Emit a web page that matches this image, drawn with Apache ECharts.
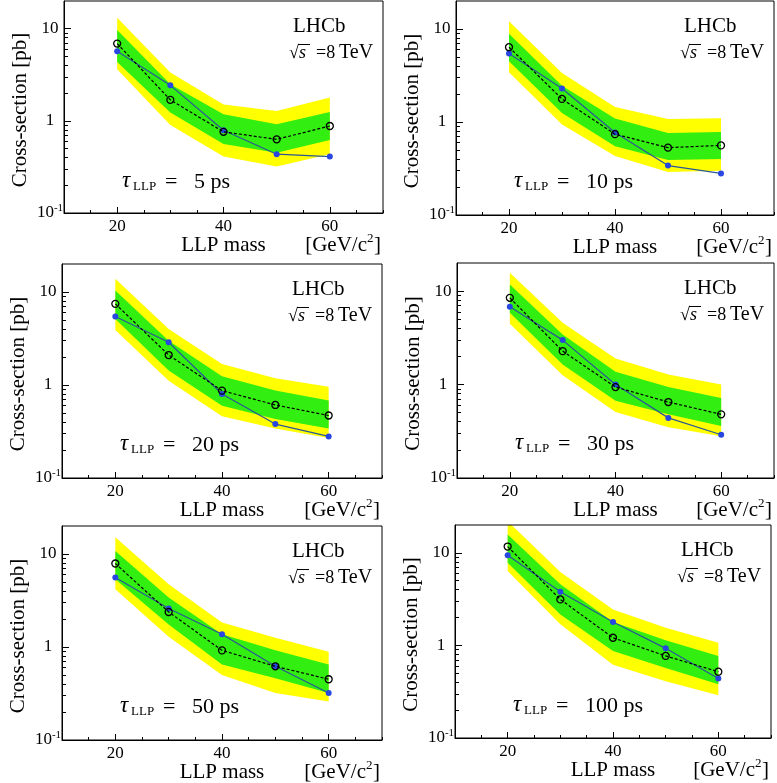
<!DOCTYPE html>
<html>
<head>
<meta charset="utf-8">
<script src="https://cdn.jsdelivr.net/npm/echarts@6/dist/echarts.min.js"></script>
<style>
html,body{margin:0;padding:0;background:#fff;}
#chart{width:777px;height:783px;}
</style>
</head>
<body>
<div id="chart"></div>
<script>
// ---- data ----
const masses = [20, 30, 40, 50, 60];
const lifetimes = ['5', '10', '20', '30', '50', '100'];
const xTickLabels = [20, 40, 60];
const yTickLabels = [0.1, 1, 10];

// tau = 5 ps
const obs5   = [5.7, 2.43, 0.79, 0.435, 0.41];
const exp5   = [6.9, 1.69, 0.76, 0.63, 0.88];
const s1lo5  = [4.35, 1.23, 0.56, 0.45, 0.62];
const s1hi5  = [9.7, 2.49, 1.18, 0.92, 1.25];
const s2lo5  = [3.63, 0.90, 0.41, 0.32, 0.435];
const s2hi5  = [13.2, 3.34, 1.51, 1.28, 1.79];
// tau = 10 ps
const obs10  = [5.45, 2.29, 0.77, 0.34, 0.28];
const exp10  = [6.37, 1.77, 0.74, 0.53, 0.56];
const s1lo10 = [4.5, 1.25, 0.55, 0.39, 0.40];
const s1hi10 = [8.87, 2.46, 1.09, 0.76, 0.78];
const s2lo10 = [3.43, 0.94, 0.43, 0.29, 0.30];
const s2hi10 = [12.1, 3.37, 1.45, 1.08, 1.10];
// tau = 20 ps
const obs20  = [5.45, 2.88, 0.80, 0.38, 0.28];
const exp20  = [7.46, 2.1, 0.87, 0.61, 0.47];
const s1lo20 = [5.14, 1.43, 0.60, 0.43, 0.34];
const s1hi20 = [10.4, 3.0, 1.24, 0.87, 0.68];
const s2lo20 = [3.91, 1.11, 0.46, 0.34, 0.27];
const s2hi20 = [13.9, 4.01, 1.68, 1.18, 0.96];
// tau = 30 ps
const obs30  = [6.8, 2.99, 1.0, 0.44, 0.29];
const exp30  = [8.48, 2.28, 0.94, 0.65, 0.48];
const s1lo30 = [5.86, 1.64, 0.67, 0.48, 0.36];
const s1hi30 = [11.8, 3.43, 1.37, 0.94, 0.72];
const s2lo30 = [4.47, 1.26, 0.51, 0.35, 0.28];
const s2hi30 = [15.7, 4.58, 1.9, 1.28, 1.0];
// tau = 50 ps
const obs50  = [5.58, 2.59, 1.37, 0.62, 0.32];
const exp50  = [7.9, 2.38, 0.92, 0.62, 0.45];
const s1lo50 = [5.36, 1.75, 0.65, 0.46, 0.32];
const s1hi50 = [10.8, 3.4, 1.37, 0.92, 0.65];
const s2lo50 = [4.18, 1.29, 0.50, 0.32, 0.26];
const s2hi50 = [15.1, 4.73, 1.83, 1.26, 0.89];
// tau = 100 ps
const obs100  = [9.4, 3.8, 1.79, 0.93, 0.44];
const exp100  = [11.7, 3.14, 1.21, 0.77, 0.52];
const s1lo100 = [7.83, 2.16, 0.87, 0.57, 0.38];
const s1hi100 = [15.8, 4.57, 1.79, 1.14, 0.77];
const s2lo100 = [6.36, 1.69, 0.62, 0.41, 0.29];
const s2hi100 = [22, 6.2, 2.45, 1.55, 1.07];

const panels = [
  {tau: lifetimes[0], obs: obs5,   exp: exp5,   s1lo: s1lo5,   s1hi: s1hi5,   s2lo: s2lo5,   s2hi: s2hi5},
  {tau: lifetimes[1], obs: obs10,  exp: exp10,  s1lo: s1lo10,  s1hi: s1hi10,  s2lo: s2lo10,  s2hi: s2hi10},
  {tau: lifetimes[2], obs: obs20,  exp: exp20,  s1lo: s1lo20,  s1hi: s1hi20,  s2lo: s2lo20,  s2hi: s2hi20},
  {tau: lifetimes[3], obs: obs30,  exp: exp30,  s1lo: s1lo30,  s1hi: s1hi30,  s2lo: s2lo30,  s2hi: s2hi30},
  {tau: lifetimes[4], obs: obs50,  exp: exp50,  s1lo: s1lo50,  s1hi: s1hi50,  s2lo: s2lo50,  s2hi: s2hi50},
  {tau: lifetimes[5], obs: obs100, exp: exp100, s1lo: s1lo100, s1hi: s1hi100, s2lo: s2lo100, s2hi: s2hi100}
];

// ---- layout ----
const rects = [
  {left: 64,  top: 1,   width: 319, height: 212},
  {left: 456, top: 1,   width: 318, height: 214},
  {left: 62,  top: 264, width: 320, height: 214},
  {left: 457, top: 263, width: 317, height: 215},
  {left: 62,  top: 526, width: 320, height: 214},
  {left: 455, top: 525, width: 316, height: 213}
];

const FONT = 'Liberation Serif';
const YELLOW = '#ffff00';
const GREEN = '#33ee11';
const minorY = [0.2,0.3,0.4,0.5,0.6,0.7,0.8,0.9,2,3,4,5,6,7,8,9];

const grids = [], xAxes = [], yAxes = [], series = [], graphics = [];

function bandSeries(gi, lo, hi, color, z) {
  return {
    type: 'custom', xAxisIndex: gi * 2, yAxisIndex: gi * 2, clip: true, silent: true, z: z,
    data: masses.map((m, i) => [m, lo[i], hi[i]]),
    encode: {x: 0, y: [1, 2]},
    renderItem: function (params, api) {
      if (params.dataIndex !== 0) return null;
      const pts = [];
      for (let i = 0; i < masses.length; i++) pts.push(api.coord([masses[i], hi[i]]));
      for (let i = masses.length - 1; i >= 0; i--) pts.push(api.coord([masses[i], lo[i]]));
      return {type: 'polygon', shape: {points: pts}, style: {fill: color, stroke: null}};
    }
  };
}

function txt(x, y, text, size, extra) {
  return {
    type: 'text', x: x, y: y, z: 20,
    style: Object.assign({text: text, fontFamily: FONT, fontSize: size, fill: '#000',
      align: 'left', verticalAlign: 'middle'}, extra || {})
  };
}

panels.forEach((p, gi) => {
  const r = rects[gi];
  grids.push({left: r.left, top: r.top, width: r.width, height: r.height,
    show: true, borderColor: '#000', borderWidth: 1, backgroundColor: 'transparent', z: 10});

  xAxes.push({
    type: 'value', gridIndex: gi, min: 10, max: 70, interval: 10, position: 'bottom',
    axisLine: {show: true, onZero: false, lineStyle: {color: '#000', width: 1}},
    axisTick: {show: true, inside: true, length: 3, lineStyle: {color: '#000'}},
    minorTick: {show: true, splitNumber: 2, length: 3, lineStyle: {color: '#000'}},
    splitLine: {show: false},
    axisLabel: {
      margin: 5, fontFamily: FONT, fontSize: 17, color: '#000',
      formatter: v => (xTickLabels.indexOf(v) >= 0 ? String(v) : '')
    },
    z: 12
  });
  xAxes.push({
    type: 'value', gridIndex: gi, min: 10, max: 70, position: 'bottom',
    axisLine: {show: false},
    axisTick: {show: true, inside: true, length: 6, customValues: xTickLabels, lineStyle: {color: '#000'}},
    axisLabel: {show: false}, splitLine: {show: false}, z: 12
  });

  yAxes.push({
    type: 'log', logBase: 10, gridIndex: gi, min: 0.1, max: 20, position: 'left',
    axisLine: {show: true, onZero: false, lineStyle: {color: '#000', width: 1}},
    axisTick: {show: true, inside: true, length: 7, customValues: yTickLabels, lineStyle: {color: '#000'}},
    splitLine: {show: false},
    axisLabel: {
      customValues: yTickLabels,
      margin: 14, align: 'center', fontFamily: FONT, fontSize: 17, color: '#000',
      formatter: function (v) {
        if (Math.abs(v - 0.1) < 1e-9) return '{b|10}{s|-1}';
        if (Math.abs(v - 1) < 1e-9) return '1';
        if (Math.abs(v - 10) < 1e-9) return '10';
        return '';
      },
      rich: {
        b: {fontFamily: FONT, fontSize: 17, color: '#000'},
        s: {fontFamily: FONT, fontSize: 11, color: '#000', padding: [0, 0, 9, 0]}
      }
    },
    z: 12
  });
  yAxes.push({
    type: 'log', logBase: 10, gridIndex: gi, min: 0.1, max: 20, position: 'left',
    axisLine: {show: false},
    axisTick: {show: true, inside: true, length: 4, customValues: minorY, lineStyle: {color: '#000'}},
    axisLabel: {show: false}, splitLine: {show: false}, z: 12
  });

  series.push(bandSeries(gi, p.s2lo, p.s2hi, YELLOW, 1));
  series.push(bandSeries(gi, p.s1lo, p.s1hi, GREEN, 2));
  series.push({
    type: 'line', name: 'observed', xAxisIndex: gi * 2, yAxisIndex: gi * 2,
    data: masses.map((m, i) => [m, p.obs[i]]),
    symbol: 'circle', symbolSize: 6,
    lineStyle: {color: '#2b5797', width: 1.2},
    itemStyle: {color: '#2846e0'},
    z: 3, animation: false
  });
  series.push({
    type: 'line', name: 'expected', xAxisIndex: gi * 2, yAxisIndex: gi * 2,
    data: masses.map((m, i) => [m, p.exp[i]]),
    symbol: 'circle', symbolSize: 7,
    lineStyle: {color: '#000', width: 1.2, type: [3, 2]},
    itemStyle: {color: 'rgba(0,0,0,0)', borderColor: '#000', borderWidth: 1.3},
    z: 4, animation: false
  });

  const L = r.left, T = r.top, R = r.left + r.width, B = r.top + r.height;
  graphics.push({
    type: 'text', x: L - 44, y: T + r.height / 2 + 3, rotation: Math.PI / 2,
    style: {text: 'Cross-section [pb]', fontFamily: FONT, fontSize: 21, fill: '#000', align: 'center', verticalAlign: 'middle'}
  });
  graphics.push(txt(L + r.width / 2, B + 32, 'LLP mass', 21, {align: 'center'}));
  graphics.push(txt(R - 16, B + 32, '[GeV/c', 21, {align: 'right'}));
  graphics.push(txt(R - 16, B + 26, '2', 13));
  graphics.push(txt(R - 9, B + 32, ']', 21));
  graphics.push(txt(R - 90, T + 25, 'LHCb', 21));
  graphics.push(txt(R - 94, T + 52, '√', 18));
  graphics.push(txt(R - 84, T + 52, 's', 18, {fontStyle: 'italic'}));
  graphics.push(txt(R - 67, T + 52, '=8', 18));
  graphics.push(txt(R - 44, T + 52, 'TeV', 20));
  graphics.push({
    type: 'line', z: 20,
    shape: {x1: R - 85, y1: T + 43.5, x2: R - 73, y2: T + 43.5},
    style: {stroke: '#000', lineWidth: 1}
  });
  graphics.push(txt(L + 58, T + 180, 'τ', 23, {fontStyle: 'italic'}));
  graphics.push(txt(L + 69, T + 186, 'LLP', 13));
  graphics.push(txt(L + 101, T + 181, '= \u2002' + p.tau + ' ps', 22));
});

const chart = echarts.init(document.getElementById('chart'), null, {renderer: 'canvas'});
chart.setOption({
  animation: false,
  backgroundColor: '#fff',
  grid: grids,
  xAxis: xAxes,
  yAxis: yAxes,
  series: series,
  graphic: graphics
});
</script>
</body>
</html>
